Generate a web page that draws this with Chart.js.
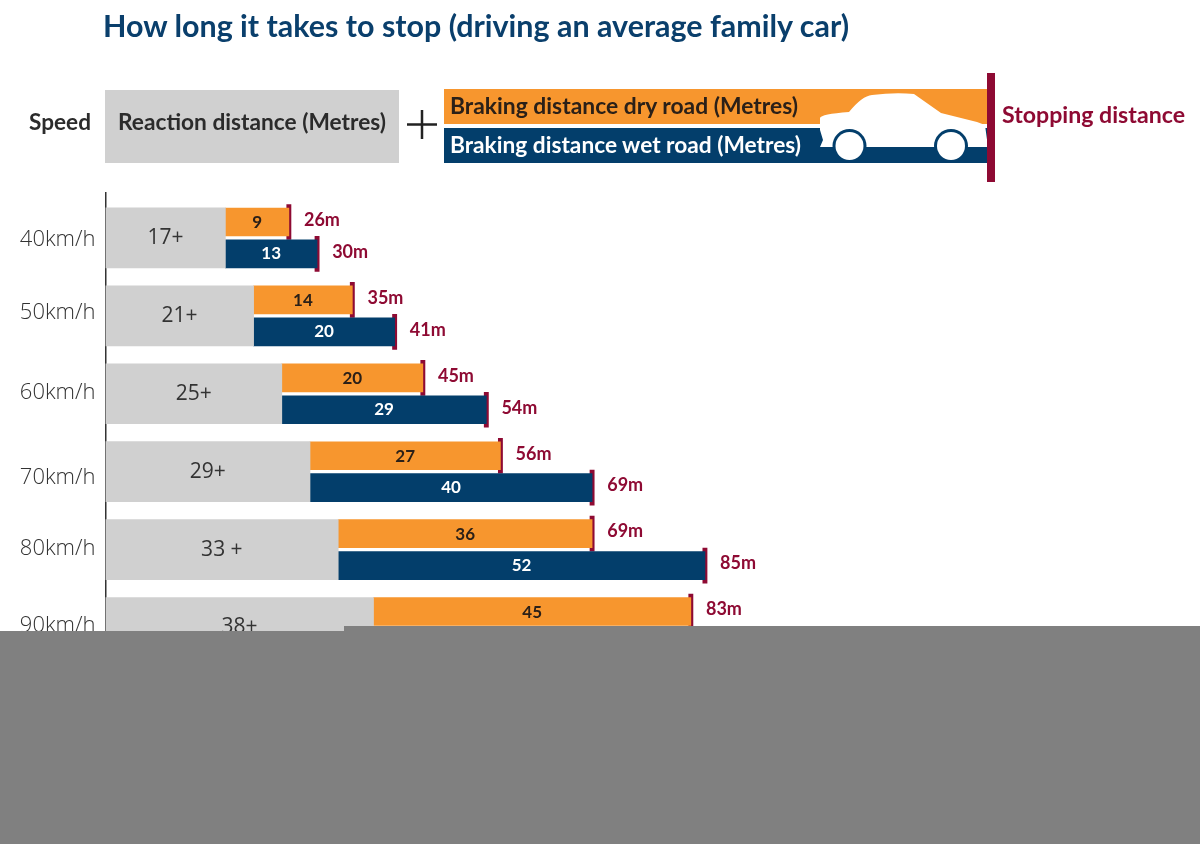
<!DOCTYPE html>
<html lang="en">
  <head>
    <meta charset="UTF-8" />
    <title>How long it takes to stop</title>
    <script src="https://cdnjs.cloudflare.com/ajax/libs/Chart.js/4.4.1/chart.umd.js"></script>
    <style>
      body { margin: 0; background: #fff; overflow: hidden; }
      #wrap { position: relative; width: 1200px; height: 844px; }
      #wrap canvas, #wrap svg { position: absolute; left: 0; top: 0; }
      svg text { font-family: Lato, sans-serif; font-weight: 700; }
    </style>
  </head>
  <body>
    <div id="wrap">
      <canvas id="myChart" width="1200" height="844"></canvas>
      <svg width="1200" height="844" viewBox="0 0 1200 844">
        <text x="103" y="37" font-size="30" fill="#0a3f6c" textLength="746" lengthAdjust="spacingAndGlyphs">How long it takes to stop (driving an average family car)</text>
        <text x="29" y="130" font-size="22" fill="#2b2b2b" textLength="62" lengthAdjust="spacingAndGlyphs">Speed</text>
        <rect x="105" y="90" width="294" height="73" fill="#d0d0d0" />
        <text x="118" y="130" font-size="22" fill="#2b2b2b" textLength="268" lengthAdjust="spacingAndGlyphs">Reaction distance (Metres)</text>
        <path d="M407 124.5H437M422 110V139" stroke="#222" stroke-width="2.5" fill="none" />
        <rect x="444" y="89" width="544" height="35" fill="#f7962e" />
        <rect x="444" y="128" width="544" height="35" fill="#033e6b" />
        <text x="450" y="114" font-size="22" fill="#2b2018" textLength="348" lengthAdjust="spacingAndGlyphs">Braking distance dry road (Metres)</text>
        <text x="450" y="153" font-size="22" fill="#fff" textLength="351" lengthAdjust="spacingAndGlyphs">Braking distance wet road (Metres)</text>
        <path d="M820 118Q821 114 849 112Q862 96 872 95Q895 92 914 94L941 113L977 122L985 125L988 147H820L823 140L820 130Z" fill="#fff" />
        <circle cx="849.5" cy="146" r="17" fill="#033e6b" />
        <circle cx="951" cy="146" r="17" fill="#033e6b" />
        <rect x="826" y="147" width="164" height="2" fill="#033e6b" />
        <circle cx="849.5" cy="146" r="14" fill="#fff" />
        <circle cx="951" cy="146" r="14" fill="#fff" />
        <rect x="987" y="73" width="8" height="109" fill="#8e0a33" />
        <text x="1002" y="123" font-size="22" fill="#8e0a33" textLength="183" lengthAdjust="spacingAndGlyphs">Stopping distance</text>
        <!-- masked part of the source picture -->
        <rect x="0" y="631" width="1200" height="213" fill="#808080" />
        <rect x="344" y="626" width="856" height="6" fill="#808080" />
      </svg>
    </div>

    <script>
      const speeds = ["40km/h", "50km/h", "60km/h", "70km/h", "80km/h", "90km/h"];
      const reaction = [17, 21, 25, 29, 33, 38];
      const reactionLabels = ["17+", "21+", "25+", "29+", "33 +", "38+"];
      const brakingDry = [9, 14, 20, 27, 36, 45];
      const brakingWet = [13, 20, 29, 40, 52];
      const stoppingDry = [26, 35, 45, 56, 69, 83];
      const stoppingWet = [30, 41, 54, 69, 85];
      // the speed labels are not quite centred on their rows in the source
      const speedNudge = [0.025, -0.035, -0.015, 0.075, -0.015, -0.02];

      const GREY = "#d0d0d0";
      const ORANGE = "#f7962e";
      const NAVY = "#033e6b";
      const MAROON = "#8e0a33";
      const ROW_SHIFT = 0.205;
      const MARK = 0.3;

      const segmentLabels = {
        id: "segmentLabels",
        afterDatasetsDraw(chart) {
          const ctx = chart.ctx;
          ctx.save();
          ctx.textBaseline = "middle";

          function centred(index, texts, font, color, dy) {
            ctx.font = font;
            ctx.fillStyle = color;
            ctx.textAlign = "center";
            chart.getDatasetMeta(index).data.forEach((bar, i) => {
              ctx.fillText(texts[i], (bar.x + bar.base) / 2, bar.y + dy);
            });
          }
          function ends(index, texts) {
            ctx.font = "700 18px Lato";
            ctx.fillStyle = MAROON;
            ctx.textAlign = "left";
            chart.getDatasetMeta(index).data.forEach((bar, i) => {
              ctx.fillText(texts[i] + "m", bar.x + 13, bar.y - 2);
            });
          }

          centred(0, reactionLabels, "400 21px 'Open Sans'", "#333", 0);
          centred(1, brakingDry, "700 17px Lato", "#2b2018", 1);
          centred(2, brakingWet, "700 17px Lato", "#fff", 0);
          ends(3, stoppingDry);
          ends(4, stoppingWet);
          ctx.restore();
        },
      };

      new Chart(document.getElementById("myChart"), {
        type: "bar",
        plugins: [segmentLabels],
        data: {
          datasets: [
            {
              label: "Reaction distance",
              data: reaction.map((v, i) => ({ x: [0, v], y: i })),
              backgroundColor: GREY,
              barThickness: 60,
            },
            {
              label: "Braking distance dry road",
              data: brakingDry.map((v, i) => ({ x: [reaction[i], reaction[i] + v], y: i - ROW_SHIFT })),
              backgroundColor: ORANGE,
              barThickness: 28,
            },
            {
              label: "Braking distance wet road",
              data: brakingWet.map((v, i) => ({ x: [reaction[i], reaction[i] + v], y: i + ROW_SHIFT })),
              backgroundColor: NAVY,
              barThickness: 28,
            },
            {
              label: "Stopping distance dry",
              data: stoppingDry.map((v, i) => ({ x: [v - MARK, v + MARK], y: i - ROW_SHIFT })),
              backgroundColor: MAROON,
              barThickness: 35,
            },
            {
              label: "Stopping distance wet",
              data: stoppingWet.map((v, i) => ({ x: [v - MARK, v + MARK], y: i + ROW_SHIFT })),
              backgroundColor: MAROON,
              barThickness: 35,
            },
          ],
        },
        options: {
          indexAxis: "y",
          responsive: false,
          animation: false,
          grouped: false,
          layout: { padding: { top: 193 } },
          plugins: { legend: { display: false }, tooltip: { enabled: false } },
          scales: {
            x: { type: "linear", display: false, min: 0, max: 155.2 },
            y: {
              type: "linear",
              offset: false,
              reverse: true,
              min: -0.577,
              max: 7.481,
              afterFit(scale) {
                scale.width = 105.5;
              },
              afterBuildTicks(scale) {
                scale.ticks = speeds.map((s, i) => ({ value: i + speedNudge[i] }));
              },
              grid: { display: false, drawTicks: false },
              border: { color: "#333", width: 1.5 },
              ticks: {
                autoSkip: false,
                padding: 10,
                color: "#333",
                font: { family: "'Open Sans'", size: 22, weight: 300 },
                callback: (value, index) => speeds[index],
              },
            },
          },
        },
      });
    </script>
  </body>
</html>
